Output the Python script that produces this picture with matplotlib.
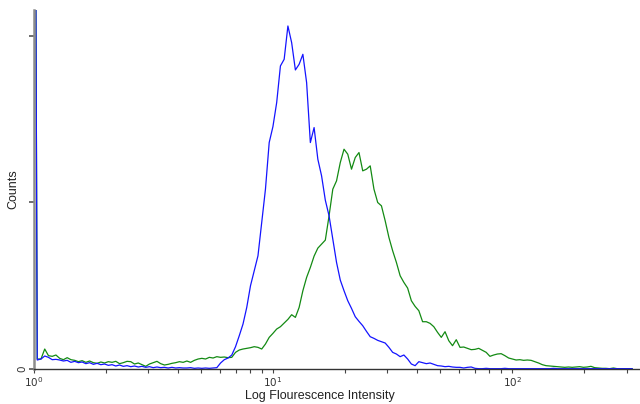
import numpy as np
import matplotlib
matplotlib.use("Agg")
import matplotlib.pyplot as plt
from matplotlib.ticker import FixedLocator, NullFormatter

# 256-channel log histogram (4 decades), visible channels 0..160
channel_step_decades = 4.0 / 256

blue_counts = [
    300, 2.7, 3.0, 3.9, 3.5, 2.8, 2.9, 2.7, 2.4, 2.6,
    2.0, 2.3, 1.9, 2.1, 1.6, 1.9, 1.4, 1.7, 1.3, 1.5,
    1.1, 1.3, 0.9, 1.2, 0.8, 1.0, 0.7, 0.9, 0.6, 0.8,
    0.5, 0.7, 0.4, 0.6, 0.4, 0.5, 0.3, 0.5, 0.3, 0.4,
    0.3, 0.3, 0.4, 0.2, 0.3, 0.2, 0.3, 0.2, 0.3, 0.4,
    1.8, 2.8, 3.3, 4.2, 6.7, 10.0, 13.5, 18.5, 25.0, 29.5,
    34.0, 44.0, 54.0, 68.0, 72.8, 80.0, 91.0, 93.0, 103.0, 98.0,
    89.8, 91.5, 94.5, 86.0, 68.0, 72.5, 63.0, 58.0, 50.7, 46.0,
    39.0, 32.0, 26.7, 23.5, 20.5, 18.2, 15.7, 14.3, 13.0, 11.3,
    9.7, 9.2, 8.6, 8.2, 7.8, 6.5, 5.0, 4.5, 3.7, 4.2,
    3.0, 1.5, 1.0, 2.2, 1.9, 1.6, 1.8, 1.4, 1.0, 0.9,
    0.7, 0.8, 0.6, 0.5, 0.5, 0.3, 0.5, 0.6, 0.2, 0.1,
    0.1, 0.2, 0.1, 0.1, 0.1, 0.1, 0.2, 0.1, 0.1, 0.1,
    0.1, 0.1, 0.1, 0.1, 0.1, 0.1, 0.1, 0.1, 0.1, 0.2,
    0.1, 0.1, 0.1, 0.1, 0.1, 0.1, 0.1, 0.1, 0.1, 0.1,
    0.1, 0.1, 0.1, 0.1, 0.1, 0.1, 0.1, 0.1, 0.1, 0.1,
    0.1,
]

green_counts = [
    300, 3.0, 3.0, 6.0, 4.0, 3.8, 4.2, 3.2, 2.8, 3.4,
    2.8, 2.6, 2.2, 2.5, 2.0, 2.4, 1.9, 1.7, 2.1, 1.8,
    2.2, 2.0, 2.3, 1.6, 1.9, 2.3, 2.2, 1.5, 1.8, 1.3,
    0.8, 1.5, 1.9, 2.3, 1.6, 1.2, 1.4, 1.7, 1.9, 2.2,
    2.0, 2.4, 2.0, 2.6, 3.0, 3.2, 3.0, 3.5, 3.3, 3.7,
    3.5, 3.6, 3.4, 3.5, 5.0, 5.7, 6.0, 6.2, 6.4, 6.7,
    6.5, 6.0, 7.5, 9.5, 10.7, 12.0, 12.7, 13.8, 14.9, 16.3,
    15.5, 18.5, 23.5, 27.5, 30.5, 33.9, 36.3, 37.5, 38.7, 46.0,
    54.0, 56.5, 62.0, 66.0, 64.5, 60.0, 63.5, 65.0, 59.5, 60.0,
    61.0, 54.0, 50.0, 49.0, 44.5, 39.5, 35.5, 32.0, 28.0, 26.0,
    24.3, 20.5, 18.8, 17.5, 14.2, 14.2, 13.7, 12.7, 11.0, 9.5,
    11.2, 8.5, 7.0, 8.8, 6.5, 6.6, 6.2, 5.8, 5.9, 6.2,
    5.6, 5.0, 3.8, 4.2, 4.5, 4.6, 4.0, 3.3, 3.0, 2.7,
    2.8, 2.6, 2.7, 2.6, 2.2, 1.8, 1.3, 1.0, 0.9, 0.8,
    0.7, 0.6, 0.5, 0.6, 0.5, 0.6, 0.7, 0.5, 0.6, 0.8,
    0.4, 0.3, 0.2, 0.2, 0.1, 0.3, 0.1, 0.1, 0.1, 0.1,
    0.1,
]

x_major = [1, 10, 100]
x_major_labels = ["$10^0$", "$10^1$", "$10^2$"]
x_minor = [2, 3, 4, 5, 6, 7, 8, 9, 20, 30, 40, 50, 60, 70, 80, 90, 200, 300]
y_ticks = [0, 50, 100]
y_tick_labels = ["0", "", ""]

channels = np.arange(len(blue_counts))
intensity = 10 ** (channels * channel_step_decades)

fig = plt.figure(figsize=(6.4, 4.04), dpi=100)
ax_left_px, ax_bottom_px, ax_top_px = 33.5, 369, 10
ax_w_px = 640 - ax_left_px
ax = fig.add_axes([ax_left_px / 640, (404 - ax_bottom_px) / 404, ax_w_px / 640,
                   (ax_bottom_px - ax_top_px) / 404])

ax.plot(intensity, green_counts, color="#138a13", lw=0.9)
ax.plot(intensity, blue_counts, color="#1414ff", lw=0.9)

ax.set_xscale("log")
ax.set_xlim(1, 10 ** 2.533)
ax.set_ylim(0, 107.8)

ax.xaxis.set_major_locator(FixedLocator(x_major))
ax.set_xticklabels(x_major_labels)
ax.xaxis.set_minor_locator(FixedLocator(x_minor))
ax.xaxis.set_minor_formatter(NullFormatter())
ax.set_yticks(y_ticks)
ax.set_yticklabels(y_tick_labels)

for s in ("top", "right"):
    ax.spines[s].set_visible(False)
ax.spines["left"].set_color("#8c8c8c")
ax.spines["left"].set_linewidth(1.8)
ax.spines["bottom"].set_color("#333333")
ax.spines["bottom"].set_linewidth(1.0)

ax.tick_params(axis="x", which="both", direction="out", length=3.2, width=0.8,
               color="#444444", labelsize=7.5, pad=1.5, labelcolor="#333333")
ax.tick_params(axis="y", which="both", direction="out", length=3.6, width=1.2,
               color="#555555", labelsize=7.5, pad=0.5, labelrotation=90, labelcolor="#333333")

fam = ["Liberation Sans", "DejaVu Sans"]
ax.set_xlabel("Log Flourescence Intensity", fontsize=9, family=fam, color="#222222")
ax.xaxis.set_label_coords((320 - ax_left_px) / ax_w_px, -(402 - ax_bottom_px) / (ax_bottom_px - ax_top_px))
ax.xaxis.label.set_va("bottom")
ax.set_ylabel("Counts", fontsize=9, family=fam, color="#222222")
ax.yaxis.set_label_coords(-(ax_left_px - 19.5) / ax_w_px, 0.5)

fig.savefig("out.png", dpi=100)
